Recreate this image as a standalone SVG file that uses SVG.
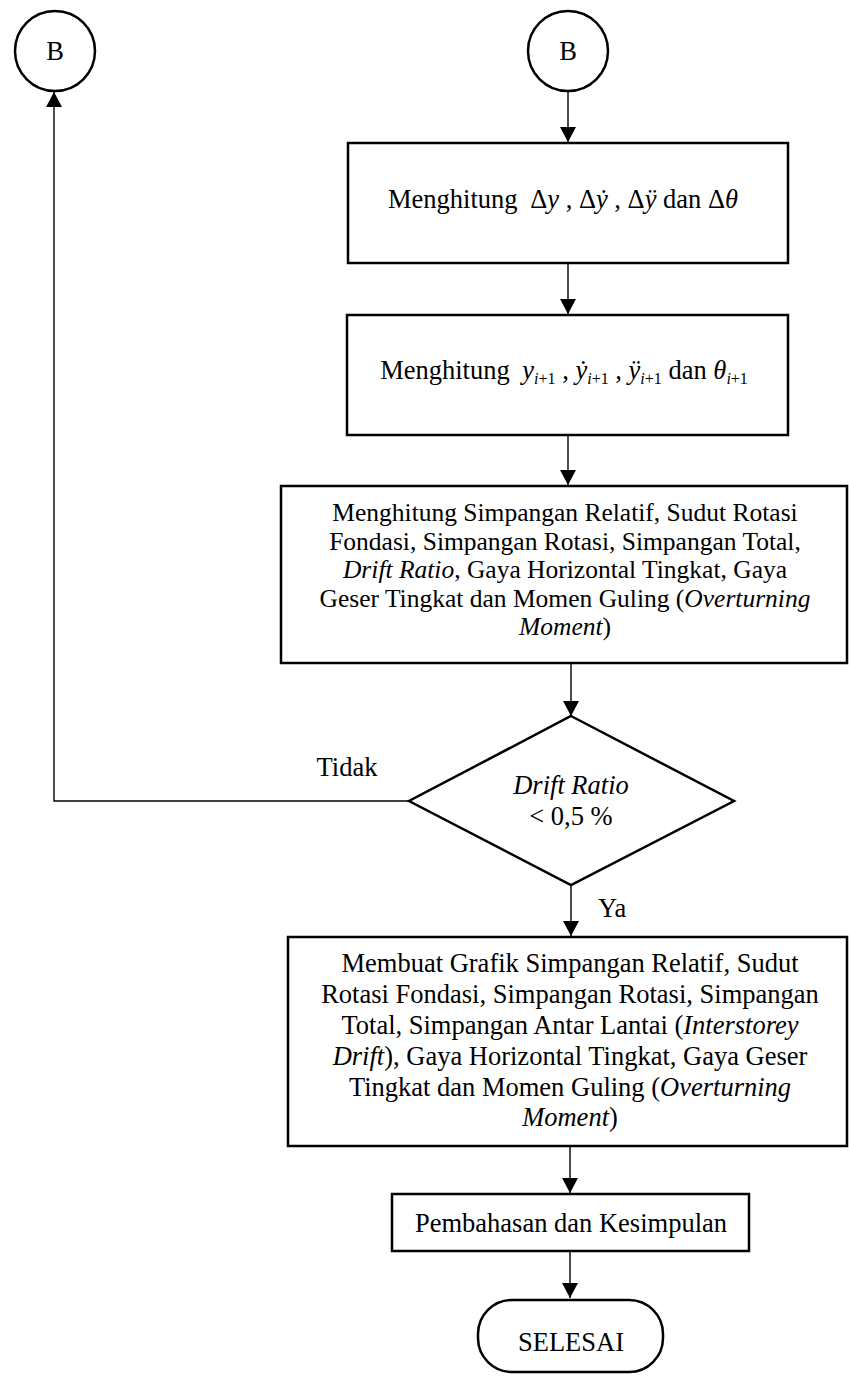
<svg xmlns="http://www.w3.org/2000/svg" width="849" height="1376" viewBox="0 0 849 1376">
<style>
  .shape{fill:#fff;stroke:#000;stroke-width:2.5}
  .conn{fill:none;stroke:#000;stroke-width:1.4}
  text{font-family:"Liberation Serif","Times New Roman",serif;font-size:26.5px;fill:#000}
  .c{text-anchor:middle}
  .it{font-style:italic}
  .sub{font-size:16px}
  .tight{font-size:25.5px}
</style>
<defs>
  <marker id="arr" markerUnits="userSpaceOnUse" markerWidth="18" markerHeight="18" refX="15" refY="8" orient="auto">
    <path d="M0,0 L15,8 L0,16 Z" fill="#000"/>
  </marker>
</defs>

<g id="connectors">
  <line class="conn" x1="568" y1="91" x2="568" y2="142" marker-end="url(#arr)"/>
  <line class="conn" x1="568" y1="263" x2="568" y2="314" marker-end="url(#arr)"/>
  <line class="conn" x1="568" y1="435" x2="568" y2="485" marker-end="url(#arr)"/>
  <line class="conn" x1="571" y1="664" x2="571" y2="716" marker-end="url(#arr)"/>
  <polyline class="conn" points="409,801 54,801 54,92" marker-end="url(#arr)"/>
  <line class="conn" x1="571" y1="885" x2="571" y2="936" marker-end="url(#arr)"/>
  <line class="conn" x1="570" y1="1146" x2="570" y2="1193" marker-end="url(#arr)"/>
  <line class="conn" x1="570" y1="1251" x2="570" y2="1298" marker-end="url(#arr)"/>
  <text x="347" y="776" class="c">Tidak</text>
  <text x="598" y="917">Ya</text>
</g>

<g id="connB-left">
  <ellipse class="shape" cx="55" cy="51" rx="40" ry="40" stroke-width="2"/>
  <text x="55" y="60" class="c">B</text>
</g>

<g id="connB-right">
  <ellipse class="shape" cx="568" cy="51" rx="40" ry="40" stroke-width="2"/>
  <text x="568" y="60" class="c">B</text>
</g>

<g id="box1">
  <rect class="shape" x="348" y="143" width="440" height="120"/>
  <text x="563" y="208" class="c">Menghitung <tspan dx="6">Δ</tspan><tspan class="it">y</tspan> , Δ<tspan class="it">ẏ</tspan> , Δ<tspan class="it">ÿ</tspan> dan Δ<tspan class="it">θ</tspan></text>
</g>

<g id="box2">
  <rect class="shape" x="347" y="315" width="441" height="120"/>
  <text x="564" y="379" class="c">Menghitung <tspan dx="6" class="it">y</tspan><tspan class="sub it" dy="5">i</tspan><tspan class="sub">+1</tspan><tspan dy="-5"> , </tspan><tspan class="it">ẏ</tspan><tspan class="sub it" dy="5">i</tspan><tspan class="sub">+1</tspan><tspan dy="-5"> , </tspan><tspan class="it">ÿ</tspan><tspan class="sub it" dy="5">i</tspan><tspan class="sub">+1</tspan><tspan dy="-5"> dan </tspan><tspan class="it">θ</tspan><tspan class="sub it" dy="5">i</tspan><tspan class="sub">+1</tspan></text>
</g>

<g id="box3">
  <rect class="shape" x="281" y="486" width="566" height="177"/>
  <text x="565" y="521" class="c tight">Menghitung Simpangan Relatif, Sudut Rotasi</text>
  <text x="565" y="549.5" class="c tight">Fondasi, Simpangan Rotasi, Simpangan Total,</text>
  <text x="565" y="578" class="c tight"><tspan class="it">Drift Ratio</tspan>, Gaya Horizontal Tingkat, Gaya</text>
  <text x="565" y="606.5" class="c tight">Geser Tingkat dan Momen Guling (<tspan class="it">Overturning</tspan></text>
  <text x="565" y="635" class="c tight"><tspan class="it">Moment</tspan>)</text>
</g>

<g id="decision">
  <polygon class="shape" points="571,716 734,801 571,885 409,801" stroke-width="2"/>
  <text x="571" y="794" class="c it">Drift Ratio</text>
  <text x="571" y="825" class="c">&lt; 0,5 %</text>
</g>

<g id="box4">
  <rect class="shape" x="288" y="937" width="559" height="209"/>
  <text x="570" y="972" class="c">Membuat Grafik Simpangan Relatif, Sudut</text>
  <text x="570" y="1003" class="c">Rotasi Fondasi, Simpangan Rotasi, Simpangan</text>
  <text x="570" y="1034" class="c">Total, Simpangan Antar Lantai (<tspan class="it">Interstorey</tspan></text>
  <text x="570" y="1065" class="c"><tspan class="it">Drift</tspan>), Gaya Horizontal Tingkat, Gaya Geser</text>
  <text x="570" y="1096" class="c">Tingkat dan Momen Guling (<tspan class="it">Overturning</tspan></text>
  <text x="570" y="1126" class="c"><tspan class="it">Moment</tspan>)</text>
</g>

<g id="box5">
  <rect class="shape" x="392" y="1194" width="357" height="57"/>
  <text x="571" y="1232" class="c">Pembahasan dan Kesimpulan</text>
</g>

<g id="end">
  <rect class="shape" x="478" y="1300" width="185" height="72" rx="34" ry="34" stroke-width="2"/>
  <text x="571" y="1351" class="c">SELESAI</text>
</g>
</svg>
